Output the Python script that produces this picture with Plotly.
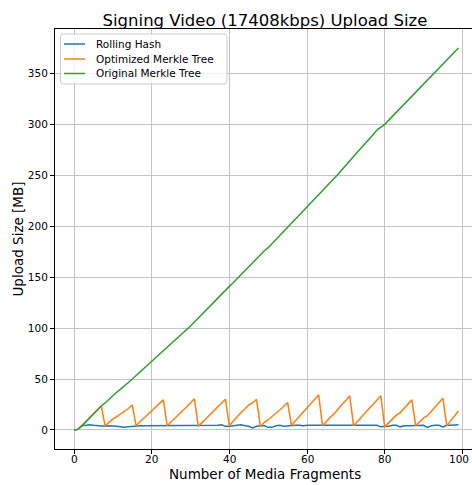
import plotly.graph_objects as go

fragments = list(range(100))

rolling_hash = [
    0, 0.5, 4, 4.5, 5, 4.5, 4, 3.5, 3.5, 4,
    4, 3.5, 3, 2.5, 3, 3.5, 4, 4, 4, 4,
    4, 4, 4, 4, 4, 4, 4.5, 4, 4, 4,
    4.5, 4.5, 4, 4, 4, 4, 4.5, 4.5, 5, 3.5,
    3.5, 4, 4.5, 5, 4, 3.5, 2, 3.5, 4, 4,
    2.5, 2.5, 4, 4.5, 3.5, 4, 4, 4.5, 4.5, 4,
    4.5, 4.5, 4.5, 4.5, 4, 4, 4, 4.5, 4.5, 4.5,
    4.5, 4.5, 4.5, 4.5, 4.5, 4.5, 4, 4, 4.5, 3,
    3, 3.5, 4.5, 4.5, 3, 4, 4, 4, 4, 4,
    4.5, 2.5, 4, 4.5, 4.5, 3, 4.5, 4.5, 4.5, 5,
]

optimized_merkle = [
    0, 0.5, 4, 8, 12.5, 16.5, 20, 23.5,
    4, 7.5, 10.5, 13, 15.5, 18, 21, 24.5,
    4, 8, 11.5, 15, 18.5, 22, 25.5, 29.5,
    4, 8, 11.5, 15, 19, 22.5, 26.5, 30.5,
    3.5, 7.5, 11, 15, 19, 22.5, 26.5, 30,
    4, 8.5, 13, 17, 20.5, 24.5, 26.5, 30,
    3, 7.5, 10, 13, 16.5, 19.5, 23, 27,
    4.5, 9, 13.5, 18, 22, 26, 30, 34.5,
    4, 8.5, 12.5, 16, 21, 25, 29, 33.5,
    4, 8.5, 13, 17, 21, 25, 29.5, 33.5,
    3, 7, 11.5, 14.5, 17, 21, 25.5, 29.5,
    4, 7.5, 11.5, 14, 18, 22.5, 27, 31,
    4, 8.5, 13.5, 18.5,
]

original_merkle = [
    0, 0.5, 4, 8, 12.5, 16.5, 20, 23.5, 26.5, 30,
    34, 37, 40, 43, 46.5, 50, 53.5, 57, 60.5, 64,
    67.5, 71, 74, 77.5, 81, 84.5, 88, 91.5, 95, 98,
    102, 106, 110, 113, 117, 121, 125, 129.5, 133, 137,
    141, 144.5, 148.5, 153, 157, 161, 164, 168, 172, 176,
    179, 183, 187, 191, 195, 199, 203, 207, 210.5, 214,
    218, 222, 226, 230, 234, 238, 242.5, 247, 251, 255.5,
    259.5, 264, 268.5, 273, 277, 281.5, 286, 290, 294.5, 297.5,
    300, 304, 308, 312, 316, 320, 324, 328, 331.5, 335,
    339, 343, 347, 351, 355, 359, 363, 367, 371, 375,
]

series_names = ["Rolling Hash", "Optimized Merkle Tree", "Original Merkle Tree"]
series_colors = ["#1f77b4", "#ff7f0e", "#2ca02c"]
series_values = [rolling_hash, optimized_merkle, original_merkle]

x_ticks = [0, 20, 40, 60, 80, 100]
y_ticks = [0, 50, 100, 150, 200, 250, 300, 350]

FONT = "DejaVu Sans"
W, H = 472, 485
M_L, M_R, M_T, M_B = 55, 0, 29, 36
PLOT_W = W - M_L - M_R
PLOT_H = H - M_T - M_B
PX_PER_FRAG = 3.883
X_MIN = -4.9
X_MAX = X_MIN + PLOT_W / PX_PER_FRAG


def px_x(px):
    """Pixel column -> paper x."""
    return (px - M_L) / PLOT_W


def px_y(py):
    """Pixel row -> paper y."""
    return (H - M_B - py) / PLOT_H


fig = go.Figure()
for name, values, color in zip(series_names, series_values, series_colors):
    fig.add_trace(go.Scatter(
        x=fragments, y=values, mode="lines", name=name,
        line=dict(color=color, width=1.5), showlegend=False,
    ))

# Legend frame (rounded box, semi-transparent white)
bx0, by0, bx1, by1, r = 60.5, 34, 227, 84, 3
path = (
    f"M {px_x(bx0 + r)},{px_y(by0)} L {px_x(bx1 - r)},{px_y(by0)} "
    f"Q {px_x(bx1)},{px_y(by0)} {px_x(bx1)},{px_y(by0 + r)} "
    f"L {px_x(bx1)},{px_y(by1 - r)} "
    f"Q {px_x(bx1)},{px_y(by1)} {px_x(bx1 - r)},{px_y(by1)} "
    f"L {px_x(bx0 + r)},{px_y(by1)} "
    f"Q {px_x(bx0)},{px_y(by1)} {px_x(bx0)},{px_y(by1 - r)} "
    f"L {px_x(bx0)},{px_y(by0 + r)} "
    f"Q {px_x(bx0)},{px_y(by0)} {px_x(bx0 + r)},{px_y(by0)} Z"
)
fig.add_shape(type="path", path=path, xref="paper", yref="paper",
              fillcolor="rgba(255,255,255,0.8)",
              line=dict(color="#cccccc", width=1), layer="above")

row_y = [44, 59, 73.5]
for name, color, ry in zip(series_names, series_colors, row_y):
    fig.add_shape(type="line", xref="paper", yref="paper",
                  x0=px_x(64), x1=px_x(85), y0=px_y(ry), y1=px_y(ry),
                  line=dict(color=color, width=1.5), layer="above")
    fig.add_annotation(text=name, xref="paper", yref="paper",
                       x=px_x(94), y=px_y(ry), xanchor="left", yanchor="middle",
                       showarrow=False,
                       font=dict(family=FONT, size=10.5, color="black"))

# x tick labels below the axis; the last one is nudged so it stays inside the page
for t in x_ticks:
    fig.add_annotation(text=str(t), xref="x", yref="paper",
                       x=t, y=px_y(459.5), xanchor="center", yanchor="middle",
                       showarrow=False, borderpad=0, borderwidth=0,
                       xshift=-3 if t == x_ticks[-1] else 0,
                       font=dict(family=FONT, size=10.5, color="black"))

# x-axis title
fig.add_annotation(text="Number of Media Fragments", xref="paper", yref="paper",
                   x=px_x(265), y=px_y(473.5), xanchor="center", yanchor="middle",
                   showarrow=False, font=dict(family=FONT, size=13.5, color="black"))

axis_common = dict(
    showgrid=True, gridcolor="#c4c4c4", gridwidth=1,
    zeroline=False, showline=True, linecolor="black", linewidth=1,
    ticks="outside", ticklen=4, tickcolor="black",
    tickfont=dict(family=FONT, size=10.5, color="black"),
)

fig.update_layout(
    width=W, height=H,
    margin=dict(l=M_L, r=M_R, t=M_T, b=M_B),
    plot_bgcolor="white", paper_bgcolor="white",
    font=dict(family=FONT, color="black"),
    title=dict(
        text="Signing Video (17408kbps) Upload Size",
        font=dict(family=FONT, size=16.5, color="black"),
        x=(265 / W), xanchor="center",
        y=1 - 20 / H, yanchor="middle", yref="container",
    ),
    xaxis=dict(
        range=[X_MIN, X_MAX], tickvals=x_ticks, mirror=True,
        showticklabels=False,
        **axis_common,
    ),
    yaxis=dict(
        range=[-18.75, 393.75], tickvals=y_ticks,
        title=dict(text="Upload Size [MB]",
                   font=dict(family=FONT, size=13.5), standoff=1),
        **axis_common,
    ),
    showlegend=False,
)

fig.write_html("out.html")
